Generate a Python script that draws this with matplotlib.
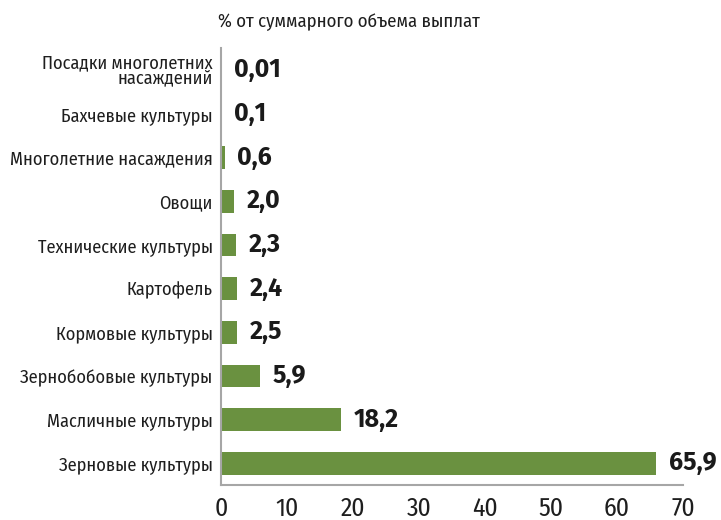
import matplotlib
matplotlib.use('Agg')
import matplotlib.pyplot as plt

categories = ['Зерновые культуры', 'Масличные культуры', 'Зернобобовые культуры',
              'Кормовые культуры', 'Картофель', 'Технические культуры', 'Овощи',
              'Многолетние насаждения', 'Бахчевые культуры',
              'Посадки многолетних\nнасаждений']
values = [65.9, 18.2, 5.9, 2.5, 2.4, 2.3, 2.0, 0.6, 0.1, 0.01]
labels = ['65,9', '18,2', '5,9', '2,5', '2,4', '2,3', '2,0', '0,6', '0,1', '0,01']

narrow = ['Fira Sans Condensed', 'DejaVu Sans']
wide = ['Fira Sans', 'DejaVu Sans']
green = '#6a9140'
grey = '#a6a6a6'

fig = plt.figure(figsize=(7.21, 5.2), dpi=100)
ax = fig.add_axes([0.3065, 0.067, 0.641, 0.84])

y = list(range(len(categories)))
ax.barh(y, values, height=0.52, color=green)

for yi, v, lab in zip(y, values, labels):
    ax.annotate(lab, (v, yi), xytext=(9, 0), textcoords='offset points',
                va='center', ha='left', fontsize=18, fontweight='bold',
                family=wide, color='#1a1a1a')

ax.set_xlim(0, 70)
ax.set_ylim(-0.5, 9.5)
ax.set_xticks(range(0, 71, 10))
ax.set_yticks(y)
ax.set_yticklabels(categories, family=narrow, fontsize=13.2, color='#1e1e1e',
                   linespacing=0.8)
for t in ax.get_xticklabels():
    t.set_family(narrow)
    t.set_fontsize(18.5)
    t.set_fontweight('normal')
    t.set_color('#1e1e1e')
ax.tick_params(axis='y', length=0, pad=6)
ax.tick_params(axis='x', length=0, pad=8)
for s in ['top', 'right']:
    ax.spines[s].set_visible(False)
for s in ['left', 'bottom']:
    ax.spines[s].set_color(grey)
    ax.spines[s].set_linewidth(1.5)

fig.text(0.484, 0.958, '% от суммарного объема выплат', ha='center', va='center',
         family=narrow, fontsize=13.5, color='#1e1e1e')

fig.savefig('out.png', dpi=100)
